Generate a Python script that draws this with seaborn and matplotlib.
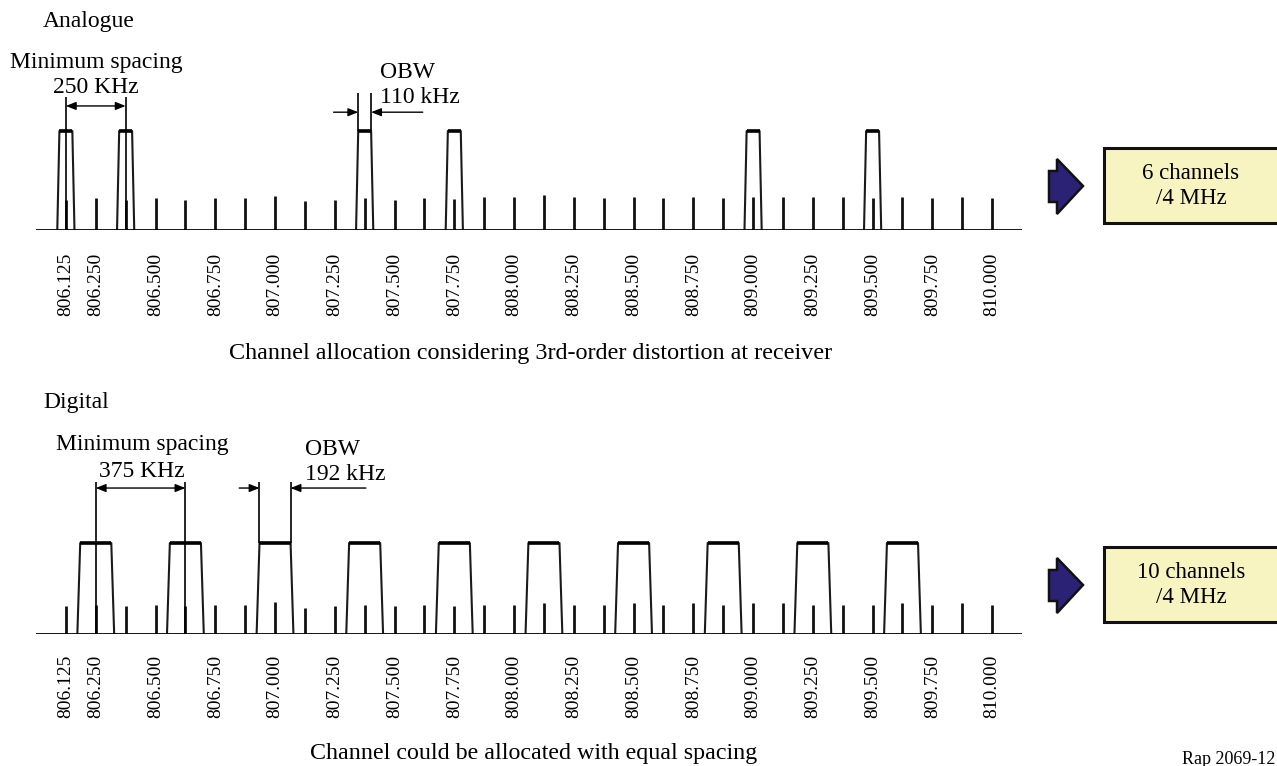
import numpy as np
import pandas as pd
import matplotlib
matplotlib.use("Agg")
import matplotlib.pyplot as plt
from matplotlib.patches import Polygon, Rectangle
import seaborn as sns

sns.set_style("white")
plt.rcParams['font.family'] = ['Liberation Serif', 'DejaVu Serif']
plt.rcParams['text.color'] = 'black'

# 125 kHz grid (MHz) with the intermod product levels, relative to carrier = 1
grid_freq = [806.125, 806.250, 806.375, 806.500, 806.625, 806.750, 806.875, 807.000,
             807.125, 807.250, 807.375, 807.500, 807.625, 807.750, 807.875, 808.000,
             808.125, 808.250, 808.375, 808.500, 808.625, 808.750, 808.875, 809.000,
             809.125, 809.250, 809.375, 809.500, 809.625, 809.750, 809.875, 810.000]
ana_grid_lvl = [0.30, 0.32, 0.30, 0.32, 0.30, 0.32, 0.32, 0.34, 0.29, 0.30, 0.32, 0.30,
                0.32, 0.31, 0.33, 0.33, 0.35, 0.33, 0.32, 0.33, 0.32, 0.33, 0.32, 0.33,
                0.33, 0.33, 0.33, 0.32, 0.33, 0.32, 0.33, 0.32]
dig_grid_lvl = [0.31, 0.32, 0.31, 0.32, 0.31, 0.32, 0.32, 0.35, 0.29, 0.31, 0.32, 0.31,
                0.32, 0.31, 0.32, 0.32, 0.34, 0.32, 0.32, 0.34, 0.32, 0.34, 0.32, 0.34,
                0.34, 0.32, 0.32, 0.32, 0.34, 0.32, 0.34, 0.32]

tick_freq = [806.125, 806.250, 806.500, 806.750, 807.000, 807.250, 807.500, 807.750,
             808.000, 808.250, 808.500, 808.750, 809.000, 809.250, 809.500, 809.750, 810.000]

# carriers
ana_chan = [806.125, 806.375, 807.375, 807.750, 809.000, 809.500]
dig_chan = [806.250, 806.625, 807.000, 807.375, 807.750, 808.125, 808.500, 808.875,
            809.250, 809.625]

W, H = 1277, 766
fig = plt.figure(figsize=(W / 100, H / 100), dpi=100)

# overlay in pixel units for labels / boxes
ov = fig.add_axes([0, 0, 1, 1])
ov.set_xlim(0, W)
ov.set_ylim(H, 0)
ov.axis("off")

X0, X1 = 36, 1022
FMIN, FMAX = 806.0, 810.125


def panel(top_px, base_px, trap_px, chans, lvls, bw, tw, pad):
    ax = fig.add_axes([X0 / W, 1 - base_px / H, (X1 - X0) / W, (base_px - top_px) / H])
    ax.set_xlim(FMIN, FMAX)
    ax.set_ylim(0, (base_px - top_px) / trap_px)
    ax.patch.set_alpha(0)
    for s in ax.spines.values():
        s.set_visible(False)
    ax.set_yticks([])
    ax.set_xticks(tick_freq)
    ax.set_xticklabels(["%.3f" % f for f in tick_freq], rotation=90, fontsize=14)
    ax.tick_params(axis="x", length=0, pad=pad, labelcolor="black")
    # intermod grid
    ax.vlines(grid_freq, 0, lvls, color="#111111", lw=2.0)
    # carrier trapezoids
    rows = []
    for i, c in enumerate(chans):
        for f, l in [(c - bw, 0), (c - tw, 1), (c + tw, 1), (c + bw, 0)]:
            rows.append({"ch": i, "f": f, "lvl": l})
    df = pd.DataFrame(rows)
    sns.lineplot(data=df, x="f", y="lvl", units="ch", estimator=None, sort=False,
                 color="#1a1a1a", lw=1.5, ax=ax, legend=False)
    ch = np.array(chans)
    ax.hlines(np.ones(len(ch)), ch - tw, ch + tw, color="k", lw=2.6)
    ax.axhline(0, color="k", lw=2.0)
    ax.set_xlabel("")
    ax.set_ylabel("")
    return ax


def dim(ax, x0, x1, y):
    ax.annotate("", xy=(x0, y), xytext=(x1, y),
                arrowprops=dict(arrowstyle="<|-|>,head_length=0.5,head_width=0.2",
                                color="k", lw=1, shrinkA=0, shrinkB=0, mutation_scale=12))


def arr(ax, xs, xe, y):
    ax.annotate("", xy=(xe, y), xytext=(xs, y),
                arrowprops=dict(arrowstyle="-|>,head_length=0.5,head_width=0.2",
                                color="k", lw=1, shrinkA=0, shrinkB=0, mutation_scale=12))


# ---- analogue
a_bw, a_tw = 0.036, 0.027
ax1 = panel(60, 230, 99, ana_chan, ana_grid_lvl, a_bw, a_tw, 16.5)
ax1.vlines([ana_chan[0], ana_chan[1]], 0, 1.343, color="k", lw=1.2)
dim(ax1, ana_chan[0], ana_chan[1], 1.253)
c = ana_chan[2]
ax1.vlines([c - a_tw, c + a_tw], 1, 1.384, color="k", lw=1.2)
arr(ax1, c - 0.13, c - a_tw, 1.19)
arr(ax1, c + 0.243, c + a_tw, 1.19)

# ---- digital
d_bw, d_tw = 0.077, 0.065
ax2 = panel(440, 634, 91, dig_chan, dig_grid_lvl, d_bw, d_tw, 15)
ax2.vlines([dig_chan[0], dig_chan[1]], 0, 1.67, color="k", lw=1.2)
dim(ax2, dig_chan[0], dig_chan[1], 1.604)
c = dig_chan[2]
ax2.vlines([c - d_tw, c + d_tw], 1, 1.67, color="k", lw=1.2)
arr(ax2, c - 0.15, c - d_tw, 1.604)
arr(ax2, c + 0.38, c + d_tw, 1.604)

# ---- texts
fs = 17
ov.text(43, 27, "Analogue", fontsize=fs, va="baseline")
ov.text(10, 68, "Minimum spacing", fontsize=fs, va="baseline")
ov.text(96, 93, "250 KHz", fontsize=fs, va="baseline", ha="center")
ov.text(380, 78, "OBW", fontsize=fs, va="baseline")
ov.text(380, 103, "110 kHz", fontsize=fs, va="baseline")
ov.text(531, 359, "Channel allocation considering 3rd-order distortion at receiver",
        fontsize=17.4, va="baseline", ha="center")

ov.text(43, 408, "Digital", fontsize=fs, va="baseline")
ov.text(142, 450, "Minimum spacing", fontsize=fs, va="baseline", ha="center")
ov.text(142, 477, "375 KHz", fontsize=fs, va="baseline", ha="center")
ov.text(305, 455, "OBW", fontsize=fs, va="baseline")
ov.text(305, 480, "192 kHz", fontsize=fs, va="baseline")
ov.text(534, 759, "Channel could be allocated with equal spacing",
        fontsize=17.3, va="baseline", ha="center")
ov.text(1275, 764, "Rap 2069-12", fontsize=13, va="baseline", ha="right")

# ---- result boxes
for yc, txt in [(186, "6 channels\n/4 MHz"), (585, "10 channels\n/4 MHz")]:
    pts = [(1049, yc - 15), (1057, yc - 15), (1057, yc - 27), (1083, yc),
           (1057, yc + 28), (1057, yc + 16), (1049, yc + 16)]
    ov.add_patch(Polygon(pts, closed=True, facecolor="#2b2275", edgecolor="#111111", lw=1.8))
    ov.add_patch(Rectangle((1104, yc - 38), 180, 75, facecolor="#f8f4c2",
                           edgecolor="#111111", lw=2.2))
    ov.text(1191, yc, txt, fontsize=16.5, ha="center", va="center", linespacing=1.28)

fig.savefig("out.png", dpi=100)
